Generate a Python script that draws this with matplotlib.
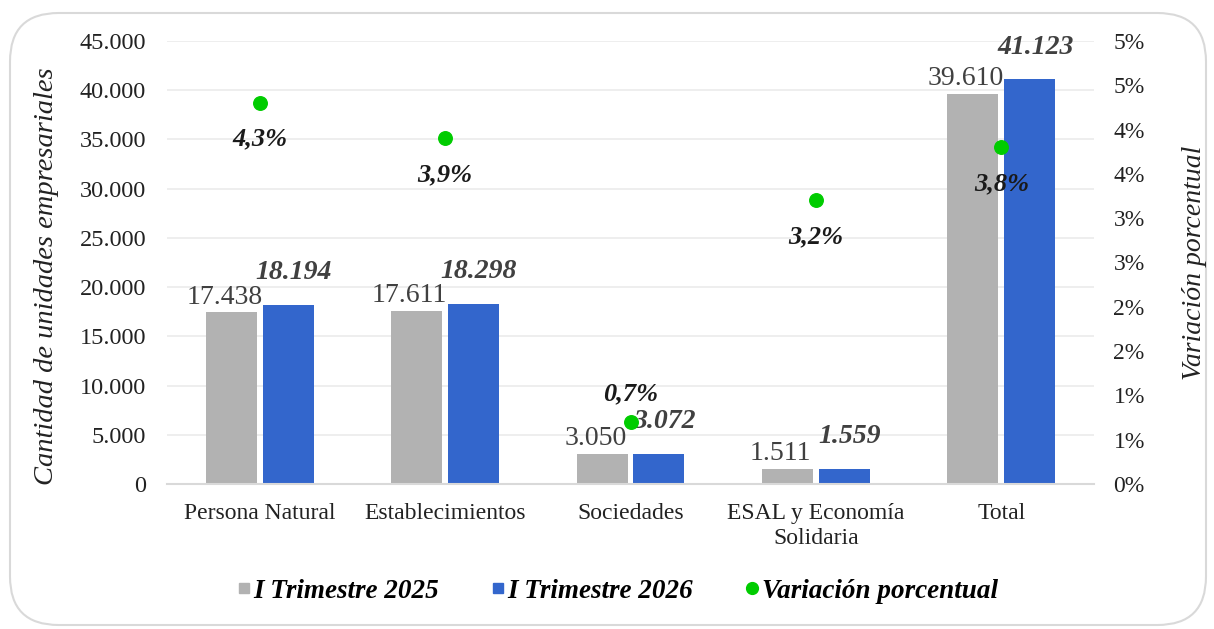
import numpy as np
import matplotlib
matplotlib.use("Agg")
import matplotlib.pyplot as plt
from matplotlib.patches import FancyBboxPatch
from matplotlib.ticker import FuncFormatter, MultipleLocator
from matplotlib.lines import Line2D

plt.rcParams['font.family'] = ['Liberation Serif', 'DejaVu Serif']

categorias = ["Persona Natural", "Establecimientos", "Sociedades",
              "ESAL y Economía\nSolidaria", "Total"]
trim_2025 = [17438, 17611, 3050, 1511, 39610]
trim_2026 = [18194, 18298, 3072, 1559, 41123]
variacion = [0.043, 0.039, 0.007, 0.032, 0.038]
var_texto = ["4,3%", "3,9%", "0,7%", "3,2%", "3,8%"]

gris = "#B2B2B2"
azul = "#3366CC"
verde = "#00CC00"

fig = plt.figure(figsize=(12.14, 6.29), dpi=100)

# marco redondeado
marco = FancyBboxPatch((10 / 1214, 4 / 629), 1196 / 1214, 612 / 629,
                       boxstyle="round,pad=0,rounding_size=0.04",
                       transform=fig.transFigure, facecolor="white",
                       edgecolor="#D9D9D9", linewidth=1.5, zorder=-10,
                       mutation_aspect=1214 / 629)
fig.patches.append(marco)

ax = fig.add_axes([167 / 1214, 1 - 484 / 629, 927 / 1214, 443 / 629])
ax.set_facecolor("none")
x = np.arange(len(categorias))
ancho = 0.275
desp = 0.153

b1 = ax.bar(x - desp, trim_2025, ancho, color=gris, zorder=2)
b2 = ax.bar(x + desp, trim_2026, ancho, color=azul, zorder=2)

ax.set_xlim(-0.5, len(categorias) - 0.5)
ax.set_ylim(0, 45000)
ax.yaxis.set_major_locator(MultipleLocator(5000))
ax.yaxis.set_major_formatter(FuncFormatter(lambda v, p: f"{int(v):,}".replace(",", ".")))
ax.grid(axis="y", color="#EBEBEB", linewidth=1.2, zorder=0)
ax.set_axisbelow(True)
for s in ["top", "right", "left"]:
    ax.spines[s].set_visible(False)
ax.spines["bottom"].set_color("#D9D9D9")
ax.spines["bottom"].set_linewidth(1.5)
ax.tick_params(axis="both", length=0, labelsize=17.5, colors="#222222")
ax.tick_params(axis="x", pad=14, labelsize=17)
ax.tick_params(axis="y", pad=15)
ax.set_xticks(x)
ax.set_xticklabels(categorias, linespacing=1.2)
ax.set_ylabel("Cantidad de unidades empresariales", fontsize=20.5,
              style="italic", color="#222222")
ax.yaxis.set_label_coords(-0.117, 0.47)

for rect, v in zip(b1, trim_2025):
    ax.annotate(f"{v:,}".replace(",", "."), (rect.get_x() + rect.get_width() / 2, v),
                xytext=(-5, 2), textcoords="offset points", ha="center", va="bottom",
                fontsize=20, color="#404040")
for rect, v in zip(b2, trim_2026):
    ax.annotate(f"{v:,}".replace(",", "."), (rect.get_x() + rect.get_width() / 2, v),
                xytext=(4, 14), textcoords="offset points", ha="center", va="bottom",
                fontsize=20, color="#404040", fontweight="bold", style="italic")

ax2 = ax.twinx()
ax2.set_ylim(0, 0.05)
ax2.yaxis.set_major_locator(MultipleLocator(0.005))
ax2.yaxis.set_major_formatter(FuncFormatter(lambda v, p: f"{int(np.floor(v * 100 + 0.5 + 1e-9))}%"))
for s in ["top", "right", "left", "bottom"]:
    ax2.spines[s].set_visible(False)
ax2.tick_params(axis="y", length=0, labelsize=17, colors="#222222", pad=14)
ax2.set_ylabel("Variación porcentual", fontsize=20, style="italic",
               color="#222222", labelpad=27)

ax2.scatter(x, variacion, s=95, color=verde, zorder=4)
for xi, v, t in zip(x, variacion, var_texto):
    dy = 20 if v < 0.02 else -26
    ax2.annotate(t, (xi, v), xytext=(0, dy), textcoords="offset points",
                 ha="center", va="center",
                 fontsize=19, fontweight="bold", style="italic", color="#1A1A1A")

handles = [
    Line2D([], [], marker="s", linestyle="none", color=gris, markersize=7.5),
    Line2D([], [], marker="s", linestyle="none", color=azul, markersize=7.5),
    Line2D([], [], marker="o", linestyle="none", color=verde, markersize=8.5),
]
etiquetas = ["I Trimestre 2025", "I Trimestre 2026", "Variación porcentual"]
fig.legend(handles, etiquetas, loc="center", bbox_to_anchor=(618 / 1214, 1 - 591 / 629),
           ncol=3, frameon=False, handlelength=0.45, handletextpad=0.12, columnspacing=1.95,
           prop={"size": 19.5, "weight": "bold", "style": "italic"})

fig.savefig("out.png", dpi=100, facecolor="white")
